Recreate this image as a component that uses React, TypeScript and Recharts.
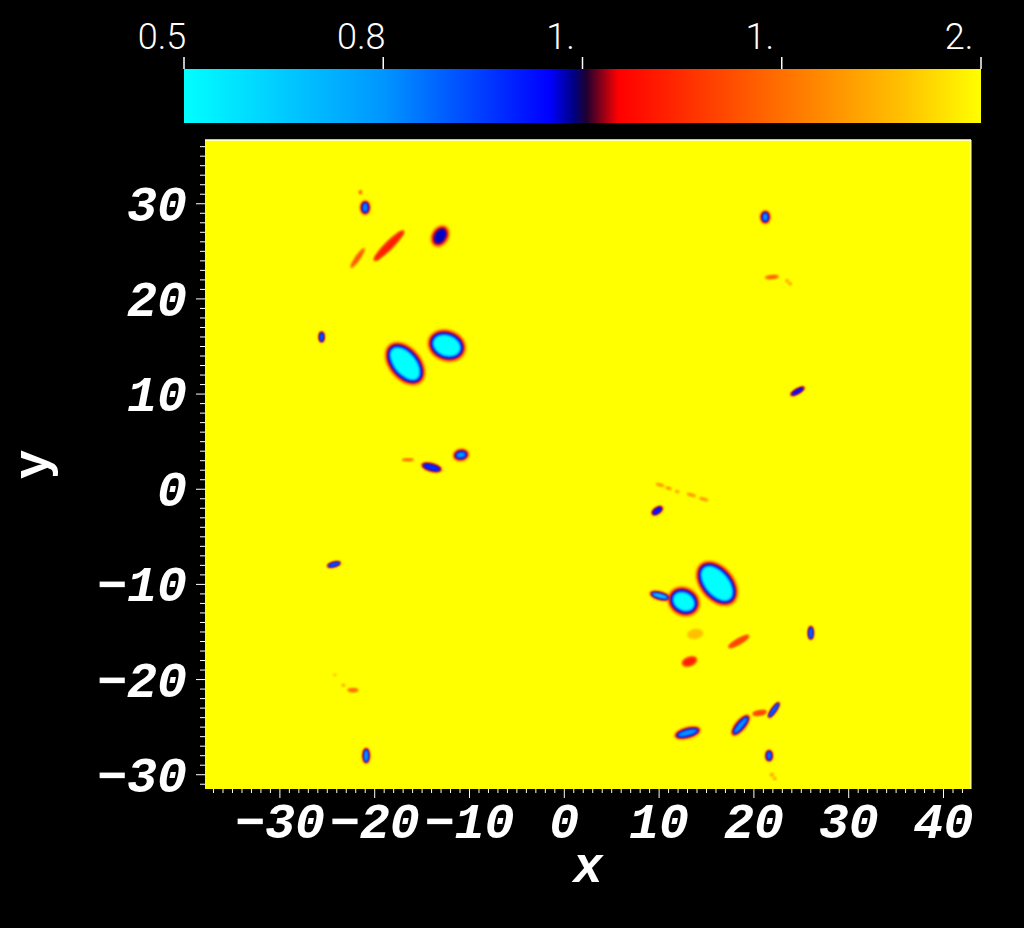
import React from "react";
import {
  ScatterChart,
  Scatter,
  XAxis,
  YAxis,
  CartesianGrid,
  ReferenceLine,
  BarChart,
  Bar,
} from "recharts";

// plot extent (data units)
const X_MIN = -37.9;
const X_MAX = 42.9;
const Y_MIN = -31.5;
const Y_MAX = 36.7;

const X_LABELS = [-30, -20, -10, 0, 10, 20, 30, 40];
const Y_LABELS = [-30, -20, -10, 0, 10, 20, 30];
const X_TICKS = Array.from({ length: 80 }, (_, i) => i - 37);
const Y_TICKS = Array.from({ length: 68 }, (_, i) => i - 31);

// colour bar
const CBAR_RANGE = [0.5, 2.0];
const CBAR_TICKS = [0.5, 0.875, 1.25, 1.625, 2.0];
const CBAR_LABELS = ["0.5", "0.8", "1.", "1.", "2."];

// features: centre, length, width (data units), angle (deg), minimum field value
const BLOB_X = [-21.0, -21.5, -13.1, -18.5, -21.8, -25.6, -16.8, -12.4, -16.5, -14.0, -10.9, -24.3, -24.2, -23.3, -22.3, -20.9, 21.2, 21.9, 23.5, 23.8, 24.6, 10.1, 11.0, 11.9, 13.4, 14.7, 9.8, 12.6, 10.1, 16.1, 13.8, 18.4, 13.2, 26.0, 13.0, 18.6, 20.6, 22.1, 21.6, 21.9, 22.2];
const BLOB_Y = [29.6, 31.2, 26.6, 25.6, 24.3, 16.0, 13.2, 15.1, 3.1, 2.3, 3.6, -7.9, -19.5, -20.6, -21.1, -28.0, 28.6, 22.3, 21.9, 21.6, 10.3, 0.45, 0.1, -0.25, -0.6, -1.05, -2.25, -11.8, -11.2, -9.9, -15.2, -16.0, -18.1, -15.1, -25.6, -24.8, -23.5, -23.2, -28.0, -30.0, -30.4];
const BLOB_LEN = [1.3, 0.4, 2.6, 4.6, 2.6, 0.8, 5.4, 4.3, 1.3, 2.4, 1.9, 1.6, 0.4, 0.4, 1.2, 1.0, 1.3, 1.5, 0.4, 0.4, 1.8, 0.9, 0.7, 0.5, 1.0, 1.0, 1.5, 3.7, 2.4, 5.6, 1.7, 2.6, 1.8, 0.8, 3.0, 2.9, 1.6, 2.1, 1.0, 0.4, 0.4];
const BLOB_WID = [1.7, 0.5, 2.0, 1.0, 0.6, 1.3, 3.6, 3.5, 0.35, 1.1, 1.5, 0.7, 0.3, 0.3, 0.5, 1.8, 1.6, 0.45, 0.3, 0.3, 0.7, 0.3, 0.3, 0.3, 0.3, 0.3, 0.9, 3.2, 1.1, 3.8, 1.1, 0.7, 1.1, 1.6, 1.4, 1.3, 0.6, 0.7, 1.4, 0.4, 0.3];
const BLOB_ANG = [0, 0, 60, 45, 55, 0, -50, -20, 0, -15, 10, 15, 0, 0, 0, 0, 0, 5, -30, -30, 30, -15, -15, -15, -15, -15, 35, -30, -15, -50, 10, 30, 20, 0, 15, 50, 10, 55, 0, 0, 0];
const BLOB_MIN = [0.9, 1.6, 1.21, 1.4, 1.55, 1.0, 0.5, 0.5, 1.6, 1.1, 0.85, 1.0, 1.85, 1.8, 1.6, 0.8, 0.85, 1.55, 1.7, 1.7, 1.15, 1.7, 1.7, 1.75, 1.7, 1.7, 1.15, 0.5, 0.6, 0.5, 1.85, 1.5, 1.4, 0.95, 0.85, 0.85, 1.5, 0.95, 0.95, 1.75, 1.75];

const BLOBS = BLOB_X.map((x, i) => ({
  x,
  y: BLOB_Y[i],
  len: BLOB_LEN[i],
  wid: BLOB_WID[i],
  ang: BLOB_ANG[i],
  min: BLOB_MIN[i],
}));

// contour levels drawn from outside in
const LEVELS = [1.85, 1.55, 1.33, 1.2, 1.05, 0.5];
const INSET_PX = [0, 1.5, 3, 4, 5, 6.5];
const INSET_FR = [0, 0.2, 0.35, 0.45, 0.55, 0.7];

const CMAP: [number, string][] = [
  [0, "#00ffff"],
  [0.25, "#0096ff"],
  [0.459, "#0000ff"],
  [0.49, "#000080"],
  [0.505, "#200030"],
  [0.525, "#900018"],
  [0.545, "#ff0000"],
  [0.75, "#ff7000"],
  [0.9, "#ffc000"],
  [1, "#ffff00"],
];

const hex = (c: string) => [1, 3, 5].map((k) => parseInt(c.slice(k, k + 2), 16));

function cmap(v: number) {
  const t = Math.max(0, Math.min(1, (v - CBAR_RANGE[0]) / (CBAR_RANGE[1] - CBAR_RANGE[0])));
  for (let i = 1; i < CMAP.length; i++) {
    if (t <= CMAP[i][0]) {
      const [t0, c0] = CMAP[i - 1];
      const [t1, c1] = CMAP[i];
      const f = (t - t0) / (t1 - t0 || 1);
      const a = hex(c0);
      const b = hex(c1);
      const rgb = a.map((q, k) => Math.round(q + (b[k] - q) * f));
      return `rgb(${rgb.join(",")})`;
    }
  }
  return CMAP[CMAP.length - 1][1];
}

const W = 1024;
const H = 928;
const MARGIN = { top: 140, right: 53, left: 0, bottom: 0 };
const Y_AXIS_W = 205;
const X_AXIS_H = 139;
const PLOT_W = W - Y_AXIS_W - MARGIN.right;
const PLOT_H = H - MARGIN.top - X_AXIS_H;
const K = (PLOT_W / (X_MAX - X_MIN) + PLOT_H / (Y_MAX - Y_MIN)) / 2;

const tickFont = {
  fontFamily: "'Liberation Mono', 'DejaVu Sans Mono', monospace",
  fontWeight: 700,
  fontStyle: "italic" as const,
  fontSize: 50,
  fill: "#fff",
};

const fmt = (v: number) => (v < 0 ? `\u2212${-v}` : `${v}`);

function XTick({ x, y, payload }: any) {
  const major = X_LABELS.includes(payload.value);
  return (
    <g>
      <line x1={x} x2={x} y1={y} y2={y + (major ? 9 : 4)} stroke="#fff" strokeWidth={1} />
      {major && (
        <text x={x} y={y + 49} textAnchor="middle" {...tickFont}>
          {fmt(payload.value)}
        </text>
      )}
    </g>
  );
}

function YTick({ x, y, payload }: any) {
  const major = Y_LABELS.includes(payload.value);
  return (
    <g>
      <line x1={x} x2={x - (major ? 9 : 5)} y1={y} y2={y} stroke="#fff" strokeWidth={1} />
      {major && (
        <text x={x - 18} y={y + 17} textAnchor="end" {...tickFont}>
          {fmt(payload.value)}
        </text>
      )}
    </g>
  );
}

function CbarTick({ x, y, payload }: any) {
  const label = CBAR_LABELS[CBAR_TICKS.indexOf(payload.value)];
  return (
    <g>
      <line x1={x} x2={x} y1={y} y2={y - 12} stroke="#fff" strokeWidth={1.5} />
      <text
        x={x - 22}
        y={y - 20}
        textAnchor="middle"
        fontFamily="Roboto, 'Noto Sans', sans-serif"
        fontWeight={300}
        fontSize={36}
        fill="#fff"
      >
        {label}
      </text>
    </g>
  );
}

const levelShape = (i: number) => (props: any) => {
  const { cx, cy, payload } = props;
  if (cx == null || cy == null) return <g />;
  if (i > 0 && LEVELS[i - 1] <= payload.min) return <g />;
  const rx0 = (payload.len * K) / 2;
  const ry0 = (payload.wid * K) / 2;
  const inset = Math.min(INSET_PX[i], INSET_FR[i] * Math.min(rx0, ry0));
  const rx = rx0 - inset;
  const ry = ry0 - inset;
  if (rx <= 0.3 || ry <= 0.3) return <g />;
  return (
    <ellipse
      cx={cx}
      cy={cy}
      rx={rx}
      ry={ry}
      transform={`rotate(${-payload.ang} ${cx} ${cy})`}
      fill={cmap(Math.max(LEVELS[i], payload.min))}
      filter="url(#soft)"
    />
  );
};

const axisTitle = (txt: string, rotate: boolean) => (props: any) => {
  const vb = props.viewBox;
  if (rotate) {
    const cy = vb.y + vb.height / 2;
    return (
      <text transform={`translate(${vb.x + 48},${cy}) rotate(-90)`} textAnchor="middle" {...tickFont} fontStyle="normal">
        {txt}
      </text>
    );
  }
  return (
    <text x={vb.x + vb.width / 2} y={vb.y + 93} textAnchor="middle" {...tickFont}>
      {txt}
    </text>
  );
};

export default function App() {
  return (
    <div style={{ position: "fixed", left: 0, top: 0, width: W, height: H, background: "#000", overflow: "hidden" }}>
      <div style={{ position: "absolute", left: 0, top: 0 }}>
        <ScatterChart width={W} height={H} margin={MARGIN}>
          <defs>
            <filter id="soft" x="-50%" y="-50%" width="200%" height="200%">
              <feGaussianBlur stdDeviation={0.9} />
            </filter>
          </defs>
          <CartesianGrid fill="#ffff00" horizontal={false} vertical={false} />
          <XAxis
            type="number"
            dataKey="x"
            domain={[X_MIN, X_MAX]}
            allowDataOverflow
            ticks={X_TICKS}
            interval={0}
            height={X_AXIS_H}
            tick={<XTick />}
            tickLine={false}
            axisLine={false}
            tickSize={0}
            tickMargin={0}
            label={{ content: axisTitle("x", false) }}
          />
          <YAxis
            type="number"
            dataKey="y"
            domain={[Y_MIN, Y_MAX]}
            allowDataOverflow
            ticks={Y_TICKS}
            interval={0}
            width={Y_AXIS_W}
            tick={<YTick />}
            tickLine={false}
            axisLine={false}
            tickSize={0}
            tickMargin={0}
            label={{ content: axisTitle("y", true) }}
          />
          <ReferenceLine y={Y_MAX} stroke="#fff" strokeWidth={1.5} />
          <ReferenceLine x={X_MAX} stroke="#fff" strokeWidth={1} />
          {LEVELS.map((lv, i) => (
            <Scatter key={lv} data={BLOBS} shape={levelShape(i)} isAnimationActive={false} />
          ))}
        </ScatterChart>
      </div>
      <div style={{ position: "absolute", left: 0, top: 0 }}>
        <BarChart
          width={W}
          height={130}
          layout="vertical"
          data={[{ name: "field", v: CBAR_RANGE }]}
          margin={{ top: 0, right: 43, left: 184, bottom: 7 }}
          barCategoryGap={0}
        >
          <defs>
            <linearGradient id="cbar" x1="0" y1="0" x2="1" y2="0">
              {CMAP.map(([o, c]) => (
                <stop key={o} offset={o} stopColor={c} />
              ))}
            </linearGradient>
          </defs>
          <XAxis
            type="number"
            orientation="top"
            domain={CBAR_RANGE}
            allowDataOverflow
            ticks={CBAR_TICKS}
            interval={0}
            height={69}
            tick={<CbarTick />}
            tickLine={false}
            axisLine={false}
            tickSize={0}
            tickMargin={0}
          />
          <YAxis type="category" dataKey="name" hide />
          <Bar dataKey="v" fill="url(#cbar)" isAnimationActive={false} />
        </BarChart>
      </div>
    </div>
  );
}
